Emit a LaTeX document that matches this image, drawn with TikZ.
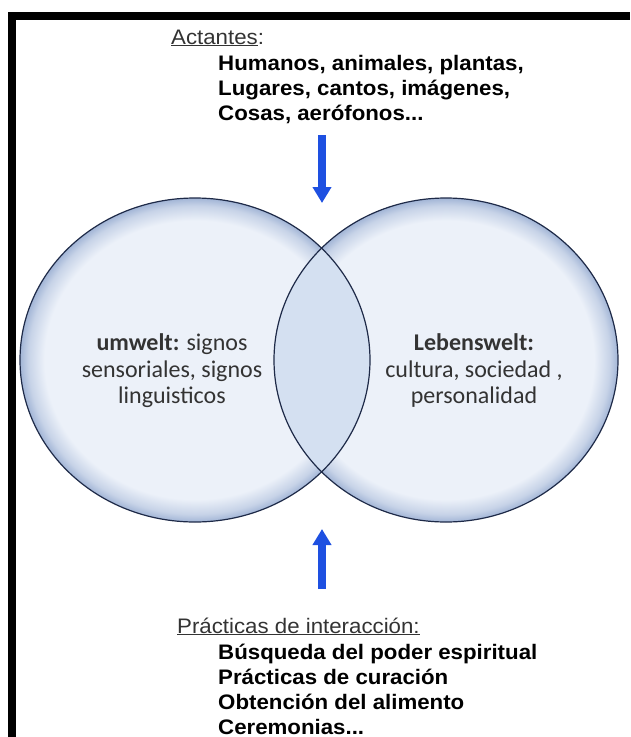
\documentclass[tikz,border=0pt]{standalone}
\usepackage{fontspec}
\setmainfont[FakeStretch=1.06]{Liberation Sans}
\newfontfamily\calibri{Carlito}
\usetikzlibrary{arrows.meta,positioning}

\definecolor{bubbleIn}{RGB}{236,241,249}
\definecolor{bubbleOut}{RGB}{162,181,214}
\definecolor{bubbleLine}{RGB}{30,42,72}
\definecolor{lensFill}{RGB}{212,224,241}
\definecolor{arrowBlue}{RGB}{30,80,225}
\pgfdeclareradialshading{bubble}{\pgfpoint{0bp}{0bp}}{%
  color(0bp)=(bubbleIn); color(21.5bp)=(bubbleIn);
  color(23.8bp)=(bubbleOut!50!bubbleIn); color(25bp)=(bubbleOut);
  color(50bp)=(bubbleOut)}

\begin{document}
\begin{tikzpicture}[
    x=1pt, y=-1pt,
    head/.style={anchor=base west, inner sep=0pt,
      font=\fontsize{21}{24}\selectfont, text=black!80},
    items/.style={anchor=base west, inner sep=0pt, align=left,
      font=\fontsize{21}{24.8}\selectfont\bfseries},
    bubble/.style={shade, shading=bubble},
    rim/.style={draw=bubbleLine, line width=1.2pt},
    inside/.style={align=center, inner sep=0pt,
      font=\calibri\fontsize{24}{26.5}\selectfont, text=black!80},
    push/.style={-{Triangle[length=16pt,width=18pt]}, line width=8pt, draw=arrowBlue}
  ]
  \useasboundingbox (0,0) rectangle (630,737);

  % frame
  \fill[black] (8,12) rectangle (630,20);
  \fill[black] (8,12) rectangle (16,737);

  % the two worlds
  \path[bubble] (195,360) ellipse [x radius=175pt, y radius=162pt];
  \path[bubble] (446,360) ellipse [x radius=172pt, y radius=162pt];
  \begin{scope}
    \clip (195,360) ellipse [x radius=175pt, y radius=162pt];
    \fill[lensFill] (446,360) ellipse [x radius=172pt, y radius=162pt];
  \end{scope}
  \draw[rim] (195,360) ellipse [x radius=175pt, y radius=162pt];
  \draw[rim] (446,360) ellipse [x radius=172pt, y radius=162pt];

  \node[inside] (umwelt) at (172,371) {\textbf{umwelt:} signos\\sensoriales, signos\\linguisticos};
  \node[inside] (lebens) at (474,371) {\textbf{Lebenswelt:}\\cultura, sociedad ,\\personalidad};

  % actants (base = last line)
  \node[head] (actHead) at (171,44) {\underline{Actantes}:};
  \node[items] (actList) at (218,120) {Humanos, animales, plantas,\\Lugares, cantos, imágenes,\\Cosas, aerófonos...};

  % practices
  \node[head] (pracHead) at (177,633) {\underline{Prácticas de interacción:}};
  \node[items] (pracList) at (218,734) {Búsqueda del poder espiritual\\Prácticas de curación\\Obtención del alimento\\Ceremonias...};

  % arrows
  \coordinate (downTop) at (322,135);
  \coordinate (downTip) at (322,203);
  \coordinate (upBot) at (322,589);
  \coordinate (upTip) at (322,529);
  \draw[push] (downTop) -- (downTip);
  \draw[push] (upBot) -- (upTip);
\end{tikzpicture}
\end{document}
